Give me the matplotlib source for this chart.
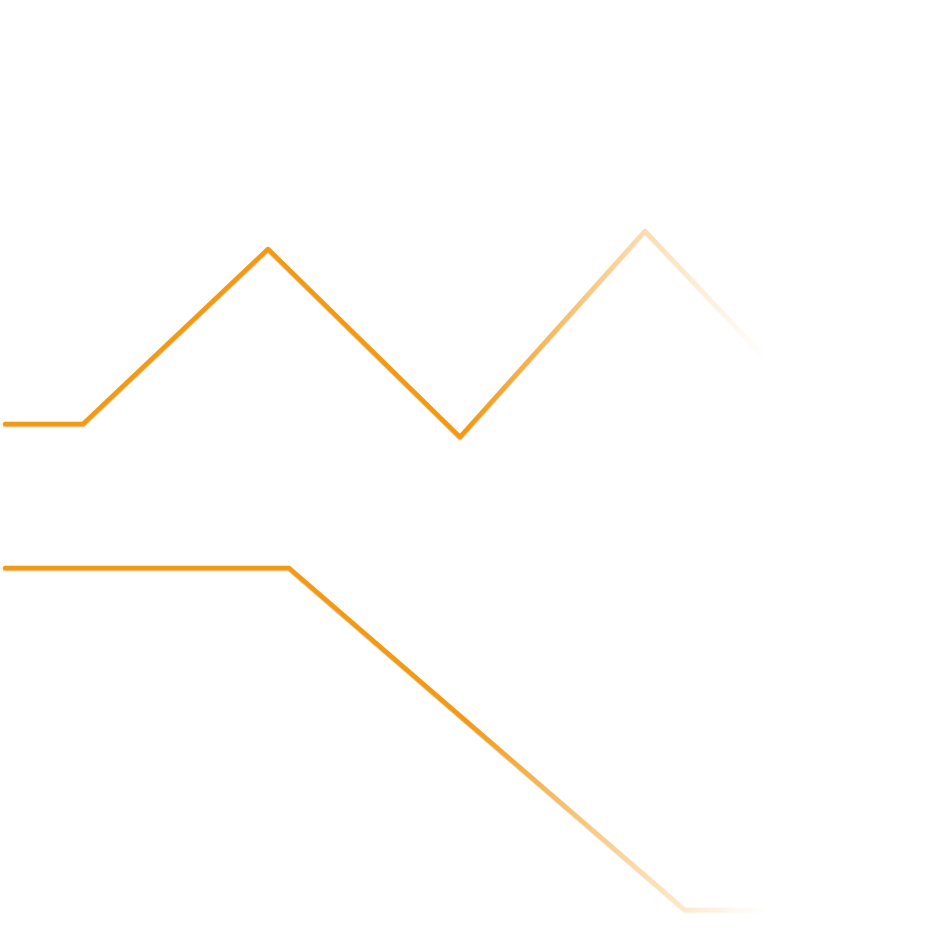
import numpy as np
import matplotlib
matplotlib.use("Agg")
import matplotlib.pyplot as plt
import matplotlib.patheffects as pe

# series values (x position, level)
upper_x = [5, 83, 268, 460, 645, 845]
upper_y = [424, 424, 249, 437, 231, 442]
lower_x = [5, 289, 685, 951]
lower_y = [568, 568, 910, 910]

line_color = '#f39a12'

fig = plt.figure(figsize=(9.51, 9.52), dpi=100)
ax = fig.add_axes([0, 0, 1, 1])
ax.set_xlim(0, 951)
ax.set_ylim(952, 0)
ax.axis('off')

shadow = [pe.SimpleLineShadow(offset=(0, -0.8), shadow_color='#b06a00', alpha=0.35), pe.Normal()]
for xs, ys in [(upper_x, upper_y), (lower_x, lower_y)]:
    ax.plot(xs, ys, color=line_color, lw=3.3, solid_capstyle='round',
            solid_joinstyle='round', path_effects=shadow, zorder=2)

# fade the lines out towards the right with a white overlay
cols = np.linspace(0, 951, 952)
t = np.clip((cols - 465) / (765 - 465), 0, 1)
fade = 1 - (1 - t) ** 1.2
overlay = np.ones((2, cols.size, 4))
overlay[..., 3] = fade[None, :]
ax.imshow(overlay, extent=[0, 951, 952, 0], aspect='auto', zorder=3, interpolation='bilinear')
ax.set_xlim(0, 951)
ax.set_ylim(952, 0)

fig.savefig('out.png', dpi=100, facecolor='white')
